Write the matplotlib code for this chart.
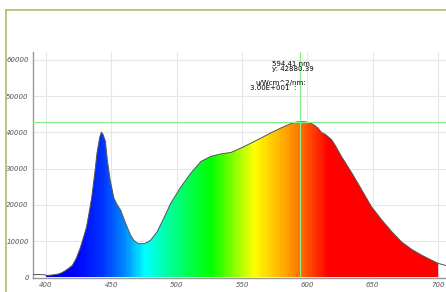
import numpy as np
import matplotlib.pyplot as plt
from matplotlib.colors import LinearSegmentedColormap
from matplotlib.lines import Line2D

# Spectrum (nm, uW/cm^2/nm scale)
wl = [390, 395, 399, 400, 405, 410, 413, 416, 420, 423, 426, 429, 431, 433, 435,
      437, 439, 441, 442.3, 443.5, 445.4, 447, 449, 451.8, 454, 457, 460.8, 464.6,
      467, 469.7, 472, 474.9, 477, 480, 485, 490, 495.4, 503, 510.8, 518.5, 526,
      534, 541.5, 549, 557, 564.6, 572, 580, 587.7, 592, 595.4, 599, 603, 606,
      608, 610.8, 614, 618.5, 622, 626, 630, 634, 641.5, 649, 657, 664.6, 672,
      680, 687.7, 695.4, 700, 702, 704, 706]
val = [800, 820, 760, 550, 700, 1000, 1500, 2200, 3300, 5200, 8000, 11500, 14000, 18000, 22300,
       28000, 34400, 38600, 40100, 39500, 37600, 32000, 27000, 22000, 20300, 18600, 15000, 11700,
       10300, 9500, 9300, 9350, 9600, 10300, 12600, 16300, 20500, 24900, 28800, 32000, 33400,
       34100, 34500, 35700, 37100, 38500, 39900, 41300, 42500, 42900, 43000, 42900, 42500, 41800,
       41200, 40000, 39400, 38000, 36000, 33400, 31100, 28800, 24200, 19500, 15800, 12600, 9800,
       7700, 6100, 4700, 3900, 3700, 3500, 3300]

cursor_x = 594.41
cursor_y = 42880.39
x_ticks = [400, 450, 500, 550, 600, 650, 700]
y_ticks = [0, 10000, 20000, 30000, 40000, 50000, 60000]

wl = np.array(wl)
val = np.array(val)

# spectral colours along the x axis
spec = LinearSegmentedColormap.from_list("spec", [
    (0.00, (0.0, 0.0, 0.85)),
    (0.07, (0.0, 0.0, 1.0)),
    (0.14, (0.0, 0.2, 1.0)),
    (0.20, (0.0, 0.55, 1.0)),
    (0.25, (0.0, 1.0, 1.0)),
    (0.33, (0.0, 1.0, 0.5)),
    (0.42, (0.0, 1.0, 0.0)),
    (0.53, (1.0, 1.0, 0.0)),
    (0.62, (1.0, 0.6, 0.0)),
    (0.72, (1.0, 0.0, 0.0)),
    (1.00, (1.0, 0.0, 0.0)),
])

fig = plt.figure(figsize=(4.46, 2.92), dpi=100)
ax = fig.add_axes([33 / 446, 1 - 277.5 / 292, 413 / 446, 225.5 / 292])
ax.set_xlim(390, 706)
ax.set_ylim(0, 62200)

ax.set_xticks(x_ticks)
ax.set_yticks(y_ticks)
ax.grid(True, color="#e6e6e6", linewidth=0.8)
ax.set_axisbelow(True)
ax.tick_params(length=0, labelsize=5, labelcolor="#555555", pad=3)
for lab in ax.get_xticklabels() + ax.get_yticklabels():
    lab.set_fontstyle("italic")
for s in ["top", "right"]:
    ax.spines[s].set_visible(False)
ax.spines["left"].set_color("#999999")
ax.spines["bottom"].set_color("#999999")
ax.spines["left"].set_linewidth(1.0)
ax.spines["bottom"].set_linewidth(1.0)

# gradient clipped to area under the curve
m = (wl >= 400) & (wl <= 700)
poly = ax.fill_between(wl[m], 0, val[m], facecolor="none", edgecolor="none")
grad = np.linspace(0, 1, 300).reshape(1, -1)
im = ax.imshow(grad, cmap=spec, aspect="auto", extent=[400, 700, 0, 62200],
               origin="lower", zorder=2)
im.set_clip_path(poly.get_paths()[0], transform=ax.transData)

ax.plot(wl, val, color="#555555", linewidth=0.7, zorder=3)

# cursor
ax.axhline(cursor_y, color="#88ee88", linewidth=0.9, zorder=4)
ax.axvline(cursor_x, color="#88ee88", linewidth=0.9, zorder=4)

fig.text(271.5 / 446, 1 - 63.5 / 292, "%.2f nm" % cursor_x, fontsize=5, ha="left", va="center")
fig.text(271.5 / 446, 1 - 69.5 / 292, "y: %.2f" % cursor_y, fontsize=5, ha="left", va="center")
fig.text(255 / 446, 1 - 82.5 / 292, "u/Wcm^2/nm:", fontsize=5, ha="left", va="center")
fig.text(250.5 / 446, 1 - 88.5 / 292, "3.00E+001  :", fontsize=5, ha="left", va="center")

# outer frame
fig.add_artist(Line2D([6 / 446, 6 / 446], [0, 1 - 10 / 292], color="#a5bf6e", linewidth=1.2))
fig.add_artist(Line2D([6 / 446, 1], [1 - 10 / 292, 1 - 10 / 292], color="#a5bf6e", linewidth=1.2))

fig.savefig("out.png", dpi=100)
